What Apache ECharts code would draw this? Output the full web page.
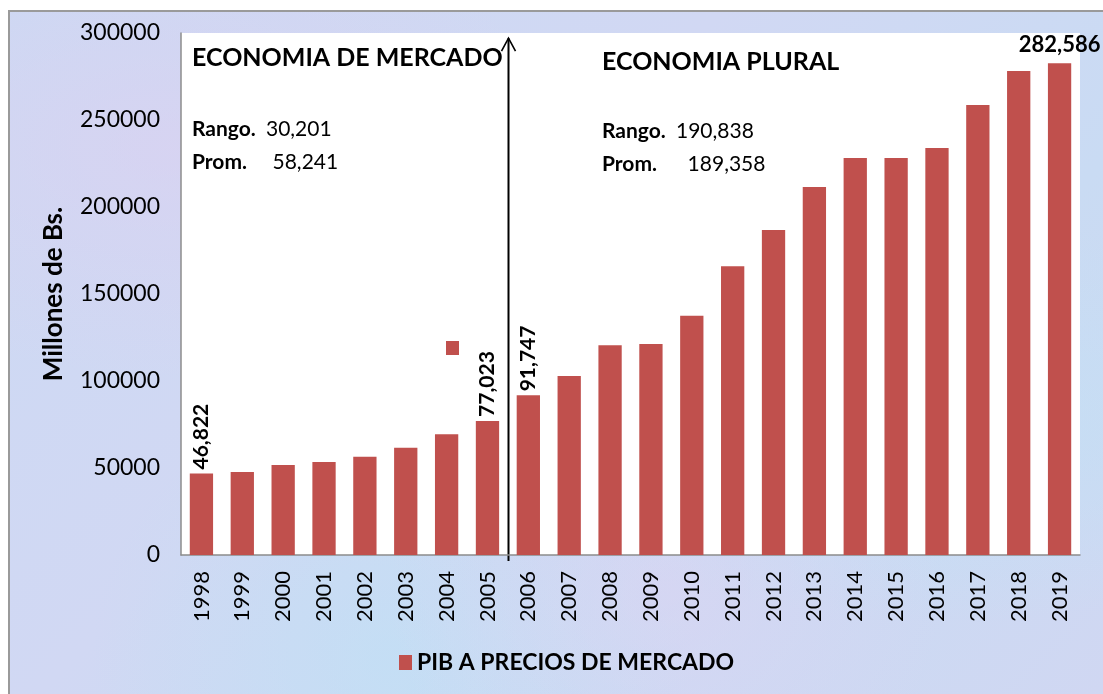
<!DOCTYPE html>
<html>
<head>
<meta charset="utf-8">
<script src="https://cdn.jsdelivr.net/npm/echarts@6/dist/echarts.min.js"></script>
<style>
html,body{margin:0;padding:0;background:#fff;}
#wrap{position:absolute;left:8px;top:10px;width:1095px;height:684px;border-left:2px solid #9a9a9a;border-top:2px solid #9a9a9a;box-sizing:border-box;
background:
 radial-gradient(ellipse at 15% 20%, rgba(225,205,240,0.45), rgba(225,205,240,0) 30%),
 radial-gradient(ellipse at 60% 85%, rgba(228,208,242,0.45), rgba(228,208,242,0) 30%),
 radial-gradient(ellipse at 85% 60%, rgba(190,228,246,0.5), rgba(190,228,246,0) 35%),
 radial-gradient(ellipse at 35% 95%, rgba(188,226,246,0.5), rgba(188,226,246,0) 30%),
 linear-gradient(135deg,#ccd9f3 0%,#d1d8f3 40%,#c9dbf3 70%,#d0d7f2 100%);}
#chart{position:absolute;left:0;top:0;width:1103px;height:694px;}
</style>
</head>
<body>
<div id="wrap"></div>
<div id="chart"></div>
<script>
const years = ['1998','1999','2000','2001','2002','2003','2004','2005','2006','2007','2008','2009','2010','2011','2012','2013','2014','2015','2016','2017','2018','2019'];
const pib = [46822,47700,51700,53400,56500,61700,69350,77023,91747,102900,120600,121300,137500,166000,186800,211500,228200,228200,233900,258600,278200,282586];
const labelledYears = ['1998','2005','2006'];
const topLabelYear = '2019';
const yTicks = [0,50000,100000,150000,200000,250000,300000];
const seriesName = 'PIB A PRECIOS DE MERCADO';
const notes = {
  left: {title:'ECONOMIA DE MERCADO', rango:'30,201', prom:'58,241'},
  right:{title:'ECONOMIA PLURAL', rango:'190,838', prom:'189,358'}
};

const FONT = 'Lato, "Open Sans", sans-serif';
const BAR = '#c0504d';
const chart = echarts.init(document.getElementById('chart'), null, {renderer:'canvas'});

const fmt = v => v.toLocaleString('en-US');
const seriesData = pib.map((v,i) => {
  const y = years[i];
  if (labelledYears.includes(y)) {
    return {value:v, label:{show:true, position:'top', rotate:90, align:'left', verticalAlign:'middle', distance:4,
      formatter: p => fmt(p.value), fontFamily:FONT, fontWeight:'bold', fontSize:21, color:'#000'}};
  }
  if (y === topLabelYear) {
    return {value:v, label:{show:true, position:'top', distance:7, formatter: p => fmt(p.value),
      fontFamily:FONT, fontWeight:'bold', fontSize:22, color:'#000'}};
  }
  return v;
});

chart.setOption({
  backgroundColor:'transparent',
  animation:false,
  grid:{left:181, right:23, top:33, bottom:139, show:true, backgroundColor:'#ffffff', borderWidth:0},
  legend:{show:true, data:[seriesName], left:394, top:646, itemWidth:13, itemHeight:15, itemGap:7,
    icon:'rect', textStyle:{fontFamily:FONT, fontWeight:'bold', fontSize:23, color:'#000'}},
  xAxis:{type:'category', data:years,
    axisLine:{lineStyle:{color:'#8c8c8c', width:1.5}}, axisTick:{show:false},
    axisLabel:{rotate:90, fontFamily:FONT, fontSize:22, color:'#000', margin:16}},
  yAxis:{type:'value', min:0, max:300000, interval:50000,
    name:'Millones de Bs.', nameLocation:'middle', nameGap:114, nameRotate:90,
    nameTextStyle:{fontFamily:FONT, fontWeight:'bold', fontSize:26, color:'#000'},
    axisLine:{show:true, lineStyle:{color:'#8c8c8c', width:1.5}}, axisTick:{show:false},
    splitLine:{show:false},
    axisLabel:{fontFamily:FONT, fontSize:23, color:'#000', margin:21,
      formatter: v => yTicks.includes(v) ? String(v) : ''}},
  series:[{name:seriesName, type:'bar', data:seriesData, barCategoryGap:'43%',
    itemStyle:{color:BAR}}]
});

function placeGraphics(){
  const x5 = chart.convertToPixel({xAxisIndex:0}, '2005');
  const x6 = chart.convertToPixel({xAxisIndex:0}, '2006');
  const ax = Math.round((x5 + x6)/2) + 0.5;
  const y0 = chart.convertToPixel({yAxisIndex:0}, 0);
  const yTop = chart.convertToPixel({yAxisIndex:0}, 297000);
  const tStyle = (text, x, y, size, weight) => ({type:'text', left:x, top:y, silent:true,
    style:{text:text, font: weight + ' ' + size + 'px ' + FONT, fill:'#000'}});
  const rich = (x, y, lab, val) => ({type:'text', left:x, top:y, silent:true,
    style:{text:'{b|' + lab + '}{n|' + val + '}', rich:{
      b:{fontFamily:FONT, fontWeight:'bold', fontSize:21, fill:'#000'},
      n:{fontFamily:FONT, fontWeight:'normal', fontSize:21, fill:'#000'}}}});
  chart.setOption({graphic:[
    {type:'line', silent:true, shape:{x1:ax, y1:y0+6, x2:ax, y2:yTop}, style:{stroke:'#000', lineWidth:2}},
    {type:'polyline', silent:true, shape:{points:[[ax-7, yTop+13],[ax, yTop],[ax+7, yTop+13]]}, style:{stroke:'#000', lineWidth:1.6, fill:null}},
    tStyle(notes.left.title, 192, 45, 25, 'bold'),
    rich(192, 119, 'Rango.  ', notes.left.rango),
    rich(192, 152, 'Prom.     ', notes.left.prom),
    tStyle(notes.right.title, 602, 49, 25, 'bold'),
    rich(602, 121, 'Rango.  ', notes.right.rango),
    rich(602, 154, 'Prom.      ', notes.right.prom),
    {type:'rect', silent:true, shape:{x:446, y:341, width:13, height:14}, style:{fill:BAR}}
  ]});
}
placeGraphics();
</script>
</body>
</html>
